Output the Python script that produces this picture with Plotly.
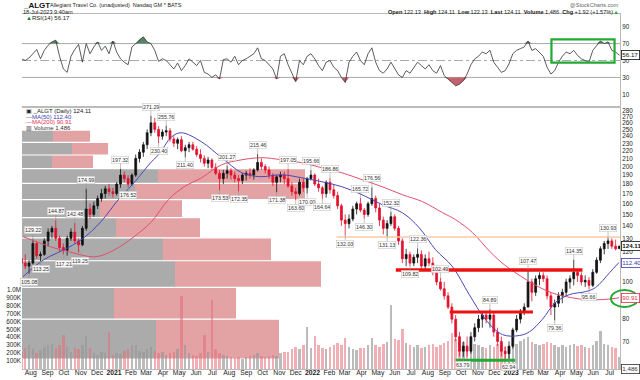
import numpy as np
import pandas as pd
import plotly.graph_objects as go

W, H = 640, 380
def fx(x): return x / W
def fy(y): return 1 - y / H

# ---------------- data (weekly) ----------------
week_start = "2020-07-13"
opens = [115,112,110,112,126,117,118,128,135,138,130,123,121,130,135,128,125,138,155,150,
         158,165,170,175,172,170,180,190,186,180,190,210,218,228,245,260,250,240,246,248,
         236,230,235,220,224,228,222,215,210,204,208,199,192,186,192,195,190,186,184,190,
         192,190,196,205,200,196,190,182,188,190,186,178,172,170,182,176,186,190,180,176,
         170,182,174,168,158,145,142,146,155,160,154,150,160,165,156,145,138,142,148,138,
         128,115,118,112,116,118,110,115,112,106,100,96,92,86,80,72,66,68,66,72,
         76,80,82,80,82,74,70,66,65,68,75,80,84,86,100,94,102,104,102,92,
         86,88,92,94,100,102,106,104,100,101,98,106,114,122,126,128,124,122.13]
highs = [120,118,114,129.22,128,120,130,138,140,144.87,132,126,132,138,142.48,130,140,174.99,160,162,
         168,175,178,180,176,182,197.32,194,190,192,215,222,232,250,271.29,268,255,250,255.76,252,
         240,238,240,228,232,232,226,222,214,212,210,204,196,196,201.27,198,194,190,192,195,
         198,198,215.46,210,203,200,192,190,194,194,197.05,182,176,186,186,188,195.66,192,186,178,
         184,186.86,180,172,160,150,150,158,162,165.72,156,162,176.56,168,160,148,145,152.32,150,140,
         130,122,120,118,122.36,121,118,120,116,110,102.49,100,94,88,82,74,70,72,74,78,
         82,84,84,84.89,84,76,72,68,70,76,82,85,88,107.47,102,104,106,106,104,94,
         90,94,96,102,104,114.35,108,106,104,103,108,116,124,128,130.93,130,129,124.11]
lows = [110,108,105.08,111,115,113.25,117,124,130,128,120,118,117.21,128,126,119.25,124,136,146,148,
        155,162,165,168,166,168,176,182,176.52,178,188,205,212,222,240,245,230.40,235,240,232,
        225,222,218,211.40,218,220,212,205,200,198,196,190,173.53,180,186,185,182,172.35,180,184,
        186,185,194,196,192,186,178,171.38,182,180,176,168,163.60,168,172,170.00,184,178,172,164.64,
        166,170,165,155,140,132.03,138,144,150,152,146.30,148,158,152,140,133,131.13,140,136,125,
        112,110,109.82,110,112,108,108,110,104,98,95,90,85,78,70,64,63.79,64,65,70,
        74,76,78,76,72,68,64,63,62.94,67,74,78,82,86,89,92,98,100,90,82,
        79.36,86,88,92,96,98,100,98,97,95.66,97,105,112,118,122,122,121,122.13]
closes = [112,110,112,126,117,118,128,135,138,130,123,121,130,135,128,125,138,155,150,158,
          165,170,175,172,170,180,190,186,180,190,210,218,228,245,260,250,240,246,248,236,
          230,235,220,224,228,222,215,210,204,208,199,192,186,192,195,190,186,184,190,192,
          190,196,205,200,196,190,182,188,190,186,178,172,170,182,176,186,190,180,176,170,
          182,174,168,158,145,142,146,155,160,154,150,160,165,156,145,138,142,148,138,128,
          115,118,112,116,118,110,115,112,106,100,96,92,86,80,72,66,68,66,72,76,
          80,82,80,82,74,70,66,65,68,75,80,84,86,100,94,102,104,102,92,86,
          88,92,94,100,102,106,104,100,101,98,106,114,122,126,128,124,122,124.11]
volumes_k = [220,260,300,250,200,240,280,300,320,260,
             300,425,280,220,260,250,300,410,260,200,
             180,220,200,470,180,200,190,230,250,300,
             300,230,220,250,280,230,200,210,180,200,
             220,250,925,300,200,180,160,200,425,220,
             875,250,200,180,160,150,140,150,130,150,
             160,180,200,170,150,160,180,170,200,210,
             220,250,280,250,300,525,260,420,300,260,
             250,280,300,330,300,390,280,250,240,260,
             270,300,390,300,280,320,340,800,380,360,
             510,330,300,280,300,260,280,300,320,280,
             300,330,350,450,380,360,340,300,280,320,
             300,280,260,300,280,320,300,280,260,300,
             320,350,380,400,340,320,300,320,340,330,
             300,280,300,280,300,320,290,300,280,260,
             300,350,480,320,300,280,260,150]
rsi_vals = [52,50,53,58,63,52,62,68,72,74,
            55,40,36,55,63,69,48,70,58,66,
            72,62,67,58,73,60,52,48,45,66,
            70,75,78,72,70,62,49,52,50,45,
            40,47,38,44,52,48,44,50,36,34,
            30,33,28,51,52,48,55,45,50,52,
            55,58,65,52,50,45,40,28,55,58,
            45,35,25,50,45,55,58,52,44,38,
            48,50,42,38,30,24,48,55,60,50,
            45,58,65,48,38,35,40,48,40,33,
            30,38,35,42,48,44,40,45,38,35,
            44,32,28,24,20,22,26,34,45,52,
            55,60,58,62,48,42,36,38,46,58,
            62,64,66,73,62,64,60,55,42,34,
            38,48,55,60,58,62,56,52,50,48,
            62,68,73,70,72,62,60,56.17]

ma50_dates = ["2020-07-18","2020-08-25","2020-10-09","2020-11-07","2020-12-08","2021-01-09","2021-02-07",
              "2021-03-11","2021-03-24","2021-04-17","2021-05-05","2021-06-11","2021-07-18","2021-08-24",
              "2021-09-26","2021-11-05","2021-12-12","2022-01-18","2022-02-24","2022-04-02","2022-05-09",
              "2022-06-15","2022-07-16","2022-08-15","2022-09-15","2022-10-16","2022-11-15","2022-12-16",
              "2023-01-16","2023-02-04","2023-02-27","2023-03-23","2023-04-18","2023-05-18","2023-06-05",
              "2023-07-01","2023-07-18"]
ma50_vals = [103.3,114.3,122.9,130.5,143.6,163.9,181.5,205.9,214.7,239.1,245,232,210.9,192.7,
             188.2,190.4,187,182.6,177.2,168.9,159.1,151.6,138.5,121.4,109.7,92.7,79.8,72.9,
             72.5,74.2,79.8,88.3,92.7,94.4,96.7,105.8,112.40]
ma200_dates = ["2020-07-18","2020-09-06","2020-10-09","2020-11-20","2020-12-08","2021-01-09","2021-02-07",
               "2021-03-11","2021-04-11","2021-05-10","2021-06-11","2021-07-18","2021-08-24","2021-09-30",
               "2021-11-05","2021-12-12","2022-01-18","2022-02-24","2022-04-02","2022-05-09","2022-06-15",
               "2022-07-22","2022-08-28","2022-09-21","2022-10-22","2022-11-23","2022-12-19","2023-01-10",
               "2023-02-13","2023-03-16","2023-04-22","2023-05-21","2023-06-20","2023-07-18"]
ma200_vals = [131.3,123.6,120,116.4,117.1,122.9,131.3,143.6,163.9,177.2,187,202.2,208.3,210.9,
              208.3,204.7,198.6,192.7,184.8,177.2,168.9,162,151.6,145.3,134.5,120,111,105.5,
              98.4,93.8,91,89.9,90,90.91]

# volume-by-price zones (price edges) and up / down volume (relative units)
vbp_edges = [63.2,80.0,96.8,113.6,130.4,147.2,164.0,180.8,197.6,214.4,231.2,248.0]
vbp_up   = [134,92,153,141,94,78,113,136,30,50,31]
vbp_down = [123,122,146,108,84,82,170,147,41,36,37]

# swing labels
lab_dates = ["2020-07-29","2020-08-05","2020-08-19","2020-09-16","2020-10-01","2020-10-21","2020-10-31",
             "2020-11-11","2021-01-13","2021-01-27","2021-03-10","2021-03-24","2021-04-07","2021-05-12",
             "2021-07-14","2021-07-28","2021-08-18","2021-09-22","2021-10-27","2021-11-17","2021-12-01",
             "2021-12-22","2021-12-29","2022-01-19","2022-02-02","2022-03-02","2022-03-30","2022-04-06",
             "2022-04-20","2022-05-18","2022-05-25","2022-06-29","2022-07-13","2022-08-24","2022-10-05",
             "2022-11-23","2022-12-28","2023-02-01","2023-03-22","2023-04-26","2023-05-24","2023-06-28"]
lab_prices = [105.08,129.22,113.25,144.87,117.21,142.48,119.25,174.99,197.32,176.52,271.29,230.40,255.76,
              211.40,173.53,201.27,172.35,215.46,171.38,197.05,163.60,170.00,195.66,164.64,186.86,132.03,
              165.72,146.30,176.56,131.13,152.32,109.82,122.36,102.49,63.79,84.89,62.94,107.47,79.36,
              114.35,95.66,130.93]
lab_side = ["L","H","L","H","L","H","L","H","H","L","H","L","H","L","L","H","L","H","L","H","L",
            "L","H","L","H","L","H","L","H","L","H","L","H","H","L","H","L","H","L","H","L","H"]

# drawn support / resistance lines
hl_levels = [130.93, 107.5, 83.5, 62.5]
hl_starts = ["2022-02-14", "2022-06-03", "2022-09-10", "2022-09-21"]
hl_ends = ["2023-07-20", "2023-05-12", "2023-02-10", "2023-01-08"]
hl_colors = ["#f9c9a3", "#ee1111", "#ee1111", "#22aa33"]
hl_widths = [1.5, 3.5, 3, 3]

# RSI highlight box
rsi_box_dates = ["2023-03-16", "2023-07-10"]
rsi_box_levels = [47.5, 75]

# axis tick labels visible in the picture (110 and 90 sit under the value boxes)
price_ticks = [70, 80, 100, 120, 130, 140, 150, 160, 170, 180, 190, 200, 210, 220, 230, 240, 250, 260, 270, 280]
rsi_ticks = [10, 30, 50, 70, 90]

last_price, ma50_last, ma200_last, rsi_last, last_vol = 124.11, 112.40, 90.91, 56.17, 1486

# ---------------- figure ----------------
dates = pd.date_range(week_start, periods=len(closes), freq="7D") + pd.Timedelta(days=2)
FONT = "Liberation Sans"
GREY, PINK = "#ababab", "#e3a2a4"

fig = go.Figure()

# volume bars (base subplot)
vcol = ["rgba(150,150,150,0.65)" if c >= o else "rgba(225,110,120,0.55)" for o, c in zip(opens, closes)]
fig.add_trace(go.Bar(x=dates, y=[v * 1000 for v in volumes_k], marker_color=vcol, marker_line_width=0,
                     width=4.5 * 86400000, xaxis="x", yaxis="y", hoverinfo="skip"))

# MA lines
fig.add_trace(go.Scatter(x=pd.to_datetime(ma200_dates), y=ma200_vals, mode="lines", line_shape="spline",
                         line=dict(color="#e0506c", width=1), xaxis="x", yaxis="y2"))
fig.add_trace(go.Scatter(x=pd.to_datetime(ma50_dates), y=ma50_vals, mode="lines", line_shape="spline",
                         line=dict(color="#4848b8", width=1), xaxis="x", yaxis="y2"))

# orange level under candles
fig.add_trace(go.Scatter(x=[hl_starts[0], hl_ends[0]], y=[hl_levels[0]] * 2, mode="lines",
                         line=dict(color=hl_colors[0], width=hl_widths[0]), xaxis="x", yaxis="y2"))

# candles
fig.add_trace(go.Candlestick(x=dates, open=opens, high=highs, low=lows, close=closes,
                             increasing=dict(line=dict(color="#111111", width=0.8), fillcolor="#111111"),
                             decreasing=dict(line=dict(color="#e3102c", width=0.8), fillcolor="#e3102c"),
                             whiskerwidth=0, xaxis="x", yaxis="y2", hoverinfo="skip"))

for i in range(1, len(hl_levels)):
    fig.add_trace(go.Scatter(x=[hl_starts[i], hl_ends[i]], y=[hl_levels[i]] * 2, mode="lines",
                             line=dict(color=hl_colors[i], width=hl_widths[i]), xaxis="x", yaxis="y2"))

# RSI
rsi_dates = pd.date_range(week_start, periods=len(rsi_vals), freq="7D") + pd.Timedelta(days=2)
rsi_arr = np.array(rsi_vals, dtype=float)
fig.add_trace(go.Scatter(x=rsi_dates, y=[70] * len(rsi_arr), mode="lines", line=dict(width=0),
                         xaxis="x2", yaxis="y3", hoverinfo="skip"))
fig.add_trace(go.Scatter(x=rsi_dates, y=np.maximum(rsi_arr, 70), mode="lines", line=dict(width=0),
                         fill="tonexty", fillcolor="rgba(70,120,85,0.9)", xaxis="x2", yaxis="y3"))
fig.add_trace(go.Scatter(x=rsi_dates, y=[30] * len(rsi_arr), mode="lines", line=dict(width=0),
                         xaxis="x2", yaxis="y3", hoverinfo="skip"))
fig.add_trace(go.Scatter(x=rsi_dates, y=np.minimum(rsi_arr, 30), mode="lines", line=dict(width=0),
                         fill="tonexty", fillcolor="rgba(190,80,95,0.9)", xaxis="x2", yaxis="y3"))
fig.add_trace(go.Scatter(x=rsi_dates, y=rsi_arr, mode="lines", line=dict(color="#333333", width=0.8),
                         xaxis="x2", yaxis="y3"))

# ---------------- shapes ----------------
shapes = []
for k in range(len(vbp_up)):
    shapes.append(dict(type="rect", xref="x3", yref="y2", x0=0, x1=vbp_up[k],
                       y0=vbp_edges[k], y1=vbp_edges[k + 1], fillcolor=GREY, line=dict(width=0), layer="below"))
    shapes.append(dict(type="rect", xref="x3", yref="y2", x0=vbp_up[k], x1=vbp_up[k] + vbp_down[k],
                       y0=vbp_edges[k], y1=vbp_edges[k + 1], fillcolor=PINK, line=dict(width=0), layer="below"))
for k in range(1, len(vbp_edges) - 1):
    ext = max(vbp_up[k - 1] + vbp_down[k - 1], vbp_up[k] + vbp_down[k])
    shapes.append(dict(type="line", xref="x3", yref="y2", x0=0, x1=ext, y0=vbp_edges[k], y1=vbp_edges[k],
                       line=dict(color="white", width=1.2), layer="below"))

# RSI reference lines
for lv, dash in [(70, "solid"), (30, "solid"), (50, "dashdot")]:
    shapes.append(dict(type="line", xref="paper", yref="y3", x0=fx(22), x1=fx(620), y0=lv, y1=lv,
                       line=dict(color="#aaaaaa", width=1, dash=dash), layer="below"))
# RSI highlight rectangle
shapes.append(dict(type="rect", xref="x2", yref="y3", x0=rsi_box_dates[0], x1=rsi_box_dates[1],
                   y0=rsi_box_levels[0], y1=rsi_box_levels[1], line=dict(color="#22aa33", width=2.2)))
# ellipse around MA200 value
shapes.append(dict(type="circle", xref="paper", yref="paper", x0=fx(611), x1=fx(638), y0=fy(307), y1=fy(290),
                   line=dict(color="#22aa33", width=2)))

# ---------------- annotations ----------------
ann = []
def txt(x, y, s, size=6, color="#222", anchor="left", **kw):
    ann.append(dict(xref="paper", yref="paper", x=fx(x), y=fy(y), text=s, showarrow=False,
                    xanchor=anchor, yanchor="middle", font=dict(family=FONT, size=size, color=color), **kw))

txt(21, 5, "<b>_ALGT</b>", size=8, color="#111")
txt(48, 5.5, "Allegiant Travel Co. (unadjusted)  Nasdaq GM * BATS", size=5.5, color="#222")
txt(21, 12, "18-Jul-2023 9:40am", size=5.6, color="#222")
txt(621, 5, "@StockCharts.com", size=5.6, color="#666", anchor="right")
txt(621, 12, "<b>Open</b> 122.13  <b>High</b> 124.11  <b>Low</b> 122.13  <b>Last</b> 124.11  "
             "<b>Volume</b> 1,486  <b>Chg</b> +1.92 (+1.57%)<span style='color:#22aa33'>▲</span>",
    size=5.6, color="#222", anchor="right")
txt(24, 18.5, "<span style='color:#337744'>▲</span>RSI(14) %.2f" % rsi_last, size=6, color="#222")
txt(24, 111, "▣ _ALGT (Daily) %.2f" % last_price, size=6, color="#222")
txt(24, 116.5, "<span style='color:#3a3ab0'>—MA(50) %.2f</span>" % ma50_last, size=6)
txt(24, 122, "<span style='color:#e0304c'>—MA(200) %.2f</span>" % ma200_last, size=6)
txt(24, 127.5, "▥ Volume 1,486", size=6, color="#333")

for d, p, s in zip(lab_dates, lab_prices, lab_side):
    ann.append(dict(xref="x", yref="y2", x=d, y=np.log10(p), text="%.2f" % p, showarrow=True,
                    arrowhead=0, arrowwidth=0.6, arrowcolor="#999", ax=0, ay=(-9 if s == "H" else 8),
                    font=dict(family=FONT, size=5.3, color="#333"), bgcolor="rgba(255,255,255,0.9)",
                    bordercolor="#c8c8c8", borderwidth=0.6, borderpad=0.5))

def side_box(yref, yval, s, color, bold=False):
    ann.append(dict(xref="paper", yref=yref, x=fx(620.5), y=yval, text=("<b>%s</b>" % s) if bold else s,
                    showarrow=False, xanchor="left", yanchor="middle",
                    font=dict(family=FONT, size=6.2, color=color), bgcolor="white",
                    bordercolor=color, borderwidth=0.8, borderpad=0.5))

side_box("y2", np.log10(last_price), "%.2f" % last_price, "#111", bold=True)
side_box("y2", np.log10(ma50_last), "%.2f" % ma50_last, "#3a3ab0")
side_box("y2", np.log10(ma200_last), "%.2f" % ma200_last, "#e0304c")
side_box("y3", rsi_last, "%.2f" % rsi_last, "#111")
side_box("y", last_vol, "1,486", "#333")

# ---------------- axes ----------------
month_starts = pd.date_range("2020-08-01", "2023-07-01", freq="MS")
tick_text = [("<b>%d</b>" % m.year) if m.month == 1 else m.strftime("%b") for m in month_starts]

vol_ticks = [100000 * k for k in range(1, 11)]
vol_text = ["%dK" % (v // 1000) for v in vol_ticks[:-1]] + ["1.0M"]

dom_x = [fx(22), fx(620)]
dom_price = [fy(369), fy(107)]
dom_rsi = [fy(107), fy(14)]
axis_font = dict(family=FONT, size=6.3, color="#222")

fig.update_layout(
    width=W, height=H, margin=dict(l=0, r=0, t=0, b=0),
    paper_bgcolor="white", plot_bgcolor="white", showlegend=False,
    shapes=shapes, annotations=ann, bargap=0,
    xaxis=dict(type="date", domain=dom_x, anchor="y", range=["2020-07-16", "2023-07-20"],
               tickvals=month_starts, ticktext=tick_text, tickfont=dict(family=FONT, size=6.8, color="#222"),
               ticks="", showgrid=False, showline=True, ticklabelstandoff=-3,
               linecolor="#bbbbbb", mirror=True, rangeslider=dict(visible=False), automargin=False,
               ticklabeloverflow="allow"),
    yaxis=dict(domain=dom_price, range=[0, 3.30e6], side="left", tickvals=vol_ticks, ticktext=vol_text,
               tickfont=axis_font, showgrid=False, zeroline=False, showline=False, ticks="",
               automargin=False, ticklabeloverflow="allow"),
    yaxis2=dict(type="log", overlaying="y", side="right", range=[np.log10(59.3), np.log10(286.0)],
                tickvals=price_ticks, ticktext=[str(t) for t in price_ticks], tickfont=axis_font,
                showgrid=False, zeroline=False, showline=True, linecolor="#bbbbbb", ticks="",
                automargin=False, ticklabeloverflow="allow"),
    xaxis2=dict(type="date", domain=dom_x, anchor="y3", matches="x", showticklabels=False,
                showgrid=False, showline=True, linecolor="#bbbbbb", mirror=True, ticks="",
                automargin=False),
    yaxis3=dict(domain=dom_rsi, range=[-5, 105], side="right", tickvals=rsi_ticks,
                tickfont=axis_font, showgrid=False, zeroline=False, showline=True, linecolor="#bbbbbb",
                ticks="", automargin=False, ticklabeloverflow="allow"),
    xaxis3=dict(domain=dom_x, overlaying="x", anchor="y2", range=[0, 598], visible=False,
                automargin=False),
)

fig.write_html("out.html", config={"displayModeBar": False},
               post_script="document.body.style.margin='0';document.body.style.overflow='hidden';")
